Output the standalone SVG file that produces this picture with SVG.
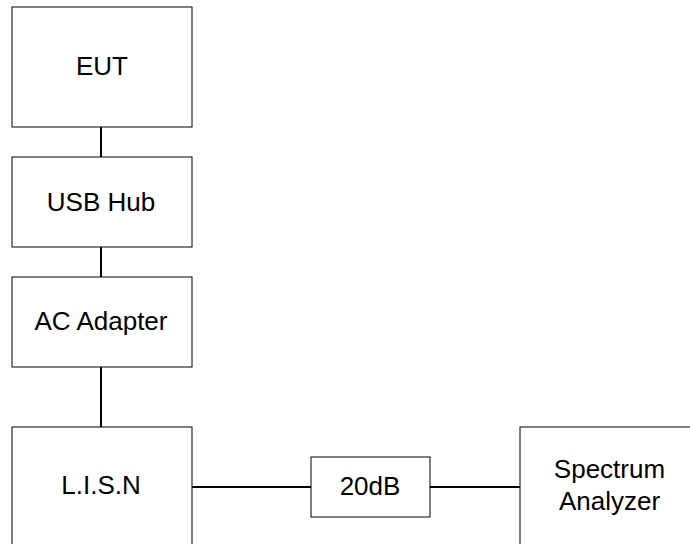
<svg xmlns="http://www.w3.org/2000/svg" width="690" height="544" viewBox="0 0 690 544">
<style>
.box{fill:#fff;stroke:#000;stroke-width:1}
.lbl{font-family:"Liberation Sans",Arial,sans-serif;font-size:26px;fill:#000;text-anchor:middle}
.con{stroke:#000;stroke-width:2;fill:none}
</style>
<rect width="690" height="544" fill="#fff"/>
<g id="connectors">
<line class="con" x1="101" y1="127" x2="101" y2="157"/>
<line class="con" x1="101" y1="247" x2="101" y2="277"/>
<line class="con" x1="101" y1="367" x2="101" y2="427"/>
<line class="con" x1="192" y1="487" x2="311" y2="487"/>
<line class="con" x1="430" y1="487" x2="520" y2="487"/>
</g>
<g id="eut"><rect class="box" x="12" y="7" width="180" height="120"/><text class="lbl" x="102" y="74.5">EUT</text></g>
<g id="usbhub"><rect class="box" x="12" y="157" width="180" height="90"/><text class="lbl" x="101" y="211">USB Hub</text></g>
<g id="acadapter"><rect class="box" x="12" y="277" width="180" height="90"/><text class="lbl" x="101" y="330">AC Adapter</text></g>
<g id="lisn"><rect class="box" x="12" y="427" width="180" height="130"/><text class="lbl" x="101" y="494">L.I.S.N</text></g>
<g id="atten"><rect class="box" x="311" y="457" width="119" height="60"/><text class="lbl" x="370" y="495">20dB</text></g>
<g id="analyzer"><rect class="box" x="520" y="427" width="190" height="130"/><text class="lbl" x="609.5" y="478">Spectrum</text><text class="lbl" x="609.5" y="510">Analyzer</text></g>
</svg>
